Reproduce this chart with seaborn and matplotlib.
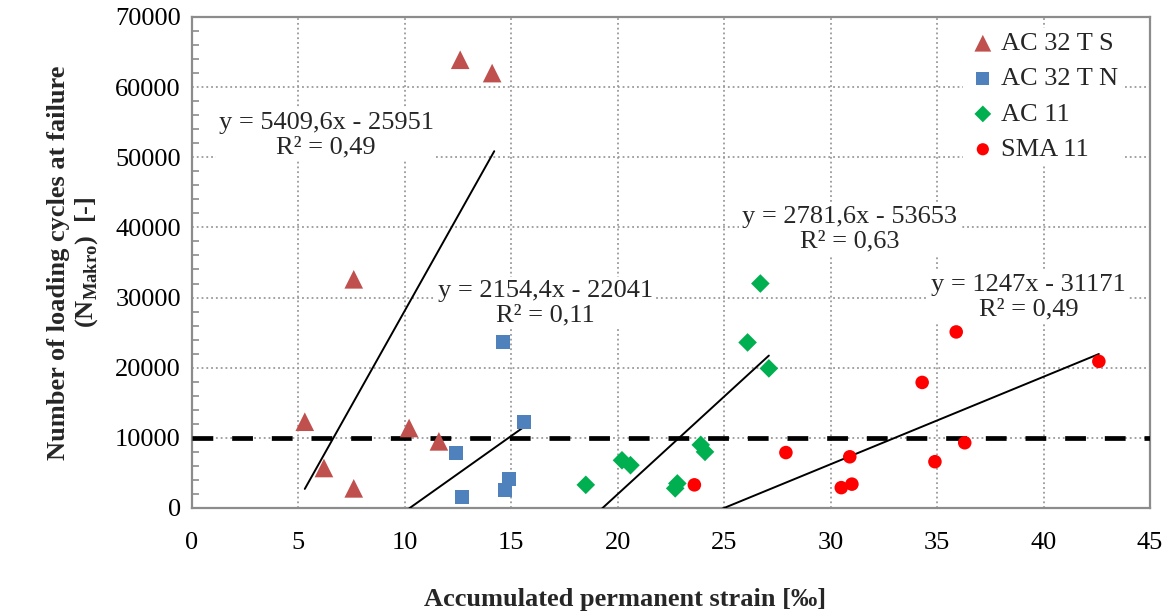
import numpy as np
import pandas as pd
import matplotlib
matplotlib.use('Agg')
import matplotlib.pyplot as plt
from matplotlib.ticker import MultipleLocator
import seaborn as sns

# values
ts_x = [12.6, 14.1, 7.6, 5.3, 10.2, 11.6, 6.2, 7.6]
ts_y = [63900, 62000, 32600, 12300, 11400, 9500, 5700, 2800]
tn_x = [14.6, 15.6, 12.4, 14.9, 14.7, 12.7]
tn_y = [23700, 12300, 7800, 4100, 2600, 1600]
ac11_x = [26.7, 26.1, 27.1, 23.9, 24.1, 20.2, 20.6, 18.5, 22.8, 22.7]
ac11_y = [32000, 23600, 19900, 9000, 8000, 6800, 6100, 3300, 3500, 2800]
sma_x = [23.6, 27.9, 30.9, 30.5, 31.0, 34.3, 35.9, 34.9, 36.3, 42.6]
sma_y = [3300, 7900, 7300, 2900, 3400, 17900, 25100, 6600, 9300, 20900]

series = ['AC 32 T S', 'AC 32 T N', 'AC 11', 'SMA 11']

# linear trend lines (as printed on the chart)
slopes = [5409.6, 2154.4, 2781.6, 1247]
intercepts = [-25951, -22041, -53653, -31171]
r2 = [0.49, 0.11, 0.63, 0.49]
fit_from = [5.3, 10.2, 18.5, 23.6]
fit_to = [14.2, 15.6, 27.1, 42.6]

limit_cycles = 10000

sns.set_theme(style='white')
plt.rcParams['font.family'] = ['Liberation Serif', 'DejaVu Serif']
plt.rcParams['mathtext.fontset'] = 'custom'
plt.rcParams['mathtext.rm'] = 'Liberation Serif'
plt.rcParams['mathtext.bf'] = 'Liberation Serif:bold'

df = pd.concat([
    pd.DataFrame({'x': ts_x, 'y': ts_y, 'mix': series[0]}),
    pd.DataFrame({'x': tn_x, 'y': tn_y, 'mix': series[1]}),
    pd.DataFrame({'x': ac11_x, 'y': ac11_y, 'mix': series[2]}),
    pd.DataFrame({'x': sma_x, 'y': sma_y, 'mix': series[3]}),
])

colors = ['#C0504D', '#4F81BD', '#00B050', '#FF0000']
markers = ['^', 's', 'D', 'o']
msizes = [180, 105, 90, 95]

fig = plt.figure(figsize=(11.69, 6.15), dpi=100)
ax = fig.add_axes([0.1642, 0.174, 0.8195, 0.7984])

for name, c, m, s in zip(series, colors, markers, msizes):
    sub = df[df['mix'] == name]
    sns.scatterplot(data=sub, x='x', y='y', marker=m, color=c, s=s,
                    edgecolor='none', label=name, ax=ax, zorder=4)

for k, b, x0, x1 in zip(slopes, intercepts, fit_from, fit_to):
    xs = np.array([x0, x1])
    ax.plot(xs, k * xs + b, color='black', lw=1.4, zorder=3)

ax.axhline(limit_cycles, color='black', lw=3.4, ls=(0, (4.4, 4.0)), zorder=3)

lab_x = [6.3, 16.6, 30.9, 39.3]
lab_y = [53200, 29200, 39700, 30100]
for k, b, r, lx, ly in zip(slopes, intercepts, r2, lab_x, lab_y):
    txt = 'y = {}x - {}\nR² = {}'.format(f'{k:g}'.replace('.', ','),
                                         abs(b), f'{r:.2f}'.replace('.', ','))
    ax.text(lx, ly, txt, ha='center', va='center', fontsize=19,
            linespacing=1.15, zorder=5,
            bbox=dict(facecolor='white', edgecolor='none', pad=2))

ax.set_xlim(0, 45)
ax.set_ylim(0, 70000)
ax.xaxis.set_major_locator(MultipleLocator(5))
ax.yaxis.set_major_locator(MultipleLocator(10000))
ax.yaxis.set_minor_locator(MultipleLocator(2000))
ax.grid(True, which='major', color='#9a9a9a', ls=':', lw=1.3)
ax.set_axisbelow(True)

for sp in ax.spines.values():
    sp.set_color('#8c8c8c')
    sp.set_linewidth(1.6)

ax.tick_params(axis='x', length=0, pad=17, labelsize=19, colors='black')
ax.tick_params(axis='y', which='major', direction='out', length=5,
               width=1.3, color='#8c8c8c', pad=3, labelsize=19, labelcolor='black')
ax.tick_params(axis='y', which='minor', direction='in', length=5,
               width=1.2, color='#8c8c8c', left=True)

ax.set_xlabel('Accumulated permanent strain [‰]', fontsize=19, fontweight='bold')
ax.xaxis.label.set_va('center')
ax.xaxis.set_label_coords(0.452, -0.187)
ax.set_ylabel('Number of loading cycles at failure\n'
              r'(N$_{\mathbf{Makro}}$)  [-]',
              fontsize=19, fontweight='bold', linespacing=1.15)
ax.yaxis.set_label_coords(-0.096, 0.5)

leg = ax.legend(loc='upper right', bbox_to_anchor=(0.985, 1.005), fontsize=19,
                frameon=True, facecolor='white', edgecolor='none', framealpha=1,
                handletextpad=0.1, labelspacing=0.45, borderpad=0.15,
                handlelength=1.2, markerscale=0.9)
leg.set_zorder(6)

fig.savefig('out.png', dpi=100)
